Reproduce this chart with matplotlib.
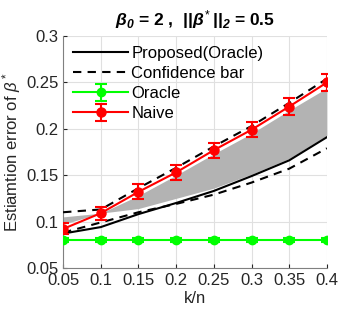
import numpy as np
import matplotlib.pyplot as plt

plt.rcParams['font.family'] = ['Liberation Sans', 'DejaVu Sans']
plt.rcParams['mathtext.fontset'] = 'custom'
plt.rcParams['mathtext.rm'] = 'Liberation Sans'
plt.rcParams['mathtext.it'] = 'Liberation Sans:italic'
plt.rcParams['mathtext.bf'] = 'Liberation Sans:bold:italic'

# data
kn = [0.05, 0.1, 0.15, 0.2, 0.25, 0.3, 0.35, 0.4]
proposed = [0.087, 0.094, 0.108, 0.120, 0.133, 0.149, 0.166, 0.191]
conf_upper = [0.110, 0.113, 0.136, 0.158, 0.181, 0.203, 0.228, 0.254]
conf_lower = [0.088, 0.099, 0.110, 0.119, 0.129, 0.142, 0.157, 0.179]
fill_upper = [0.105, 0.109, 0.128, 0.150, 0.173, 0.195, 0.220, 0.244]
fill_lower = [0.097, 0.109, 0.114, 0.125, 0.136, 0.151, 0.168, 0.193]
oracle = [0.080, 0.080, 0.080, 0.080, 0.080, 0.080, 0.080, 0.080]
oracle_err = [0.002, 0.002, 0.002, 0.002, 0.002, 0.002, 0.002, 0.002]
naive = [0.092, 0.109, 0.132, 0.153, 0.177, 0.199, 0.224, 0.250]
naive_err = [0.006, 0.007, 0.008, 0.008, 0.008, 0.008, 0.009, 0.009]

fig = plt.figure(figsize=(3.43, 3.17), dpi=100)
ax = fig.add_axes([0.184, 0.155, 0.769, 0.731])

ax.fill_between(kn, fill_lower, fill_upper, color='#b3b3b3', lw=0, zorder=1)
ax.plot(kn, proposed, 'k-', lw=1.5, label='Proposed(Oracle)', zorder=3)
ax.plot(kn, conf_upper, 'k--', lw=1.5, dashes=(4, 3), label='Confidence bar', zorder=3)
ax.plot(kn, conf_lower, 'k--', lw=1.5, dashes=(4, 3), zorder=3)
ax.errorbar(kn, oracle, yerr=oracle_err, color='#00ff00', marker='o', ms=6,
            lw=1.5, capsize=4, capthick=1.5, label='Oracle', zorder=4)
ax.errorbar(kn, naive, yerr=naive_err, color='red', marker='o', ms=6.5,
            lw=1.5, capsize=4, capthick=1.5, label='Naive', zorder=4)

ax.set_xlim(0.05, 0.4)
ax.set_ylim(0.05, 0.3)
ax.set_xticks(kn)
ax.set_xticklabels(['0.05', '0.1', '0.15', '0.2', '0.25', '0.3', '0.35', '0.4'])
ax.set_yticks([0.05, 0.1, 0.15, 0.2, 0.25, 0.3])
ax.set_yticklabels(['0.05', '0.1', '0.15', '0.2', '0.25', '0.3'])
ax.grid(True, color='#e0e0e0', lw=0.8)
ax.set_axisbelow(True)
ax.tick_params(direction='in', labelsize=12, colors='#262626', length=3)
for s in ['top', 'right']:
    ax.spines[s].set_visible(False)
for s in ['left', 'bottom']:
    ax.spines[s].set_color('#808080')

ax.set_xlabel('k/n', fontsize=12, color='#262626', labelpad=2)
ax.set_ylabel(r'Estiamtion error of $\it{\beta}^*$', fontsize=12, color='#262626', labelpad=2)
ax.set_title(r'$\mathbf{\beta_0}$ = 2 ,  ||$\mathbf{\beta}^*$||$_\mathbf{2}$ = 0.5',
             fontsize=12.5, fontweight='bold', pad=8)

ax.legend(loc='upper left', frameon=False, fontsize=12, handlelength=3.3,
          borderaxespad=0.4, borderpad=0.2, labelspacing=0.3, handletextpad=0.2)

plt.savefig('out.png', dpi=100)
plt.close()
